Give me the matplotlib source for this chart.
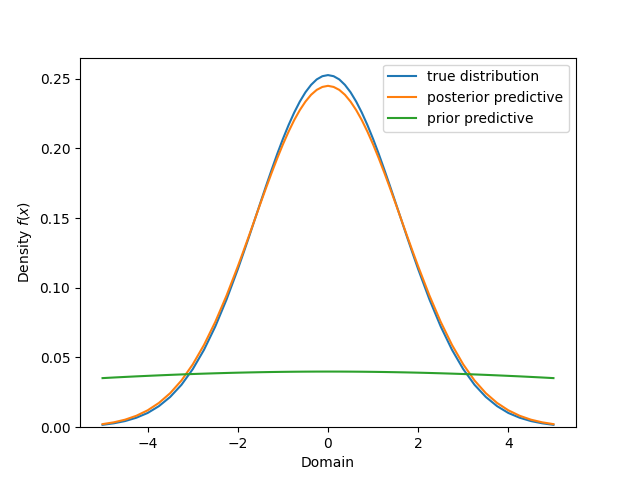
import matplotlib
matplotlib.use("Agg")
import matplotlib.pyplot as plt

# half-domain grid (x >= 0); curves are symmetric about 0
x_half = [0.0, 0.125, 0.25, 0.375, 0.5, 0.625, 0.75, 0.875, 1.0, 1.125, 1.25, 1.375, 1.5,
          1.625, 1.75, 1.875, 2.0, 2.25, 2.5, 2.75, 3.0, 3.25, 3.5, 3.75, 4.0, 4.25, 4.5,
          4.75, 5.0]
true_half = [0.2525, 0.2517, 0.2494, 0.2455, 0.2402, 0.2335, 0.2256, 0.2166, 0.2067, 0.1960,
             0.1846, 0.1729, 0.1609, 0.1488, 0.1367, 0.1249, 0.1133, 0.0916, 0.0722, 0.0555,
             0.0416, 0.0304, 0.0217, 0.0151, 0.0102, 0.0068, 0.0044, 0.0028, 0.0017]
post_half = [0.2448, 0.2440, 0.2419, 0.2384, 0.2335, 0.2274, 0.2202, 0.2119, 0.2028, 0.1929,
             0.1824, 0.1715, 0.1603, 0.1489, 0.1375, 0.1263, 0.1153, 0.0944, 0.0755, 0.0590,
             0.0450, 0.0335, 0.0244, 0.0174, 0.0121, 0.0082, 0.0054, 0.0035, 0.0022]

xp_half = [0.0, 0.25, 0.5, 0.75, 1.0, 1.25, 1.5, 1.75, 2.0, 2.25, 2.5, 2.75, 3.0, 3.25, 3.5,
           3.75, 4.0, 4.25, 4.5, 4.75, 5.0]
prior_half = [0.03989, 0.03988, 0.03984, 0.03978, 0.03969, 0.03958, 0.03944, 0.03928, 0.03910,
              0.03889, 0.03866, 0.03841, 0.03814, 0.03784, 0.03752, 0.03718, 0.03682, 0.03645,
              0.03605, 0.03564, 0.03520]

x = [-v for v in x_half[:0:-1]] + x_half
true_dist = true_half[:0:-1] + true_half
post_pred = post_half[:0:-1] + post_half
xp = [-v for v in xp_half[:0:-1]] + xp_half
prior_pred = prior_half[:0:-1] + prior_half

fig, ax = plt.subplots(figsize=(6.4, 4.8), dpi=100)
ax.plot(x, true_dist, label="true distribution")
ax.plot(x, post_pred, label="posterior predictive")
ax.plot(xp, prior_pred, label="prior predictive")
ax.set_ylim(bottom=0)
ax.set_xlabel("Domain")
ax.set_ylabel("Density $f(x)$")
ax.legend(loc="upper right")
fig.savefig("out.png")
